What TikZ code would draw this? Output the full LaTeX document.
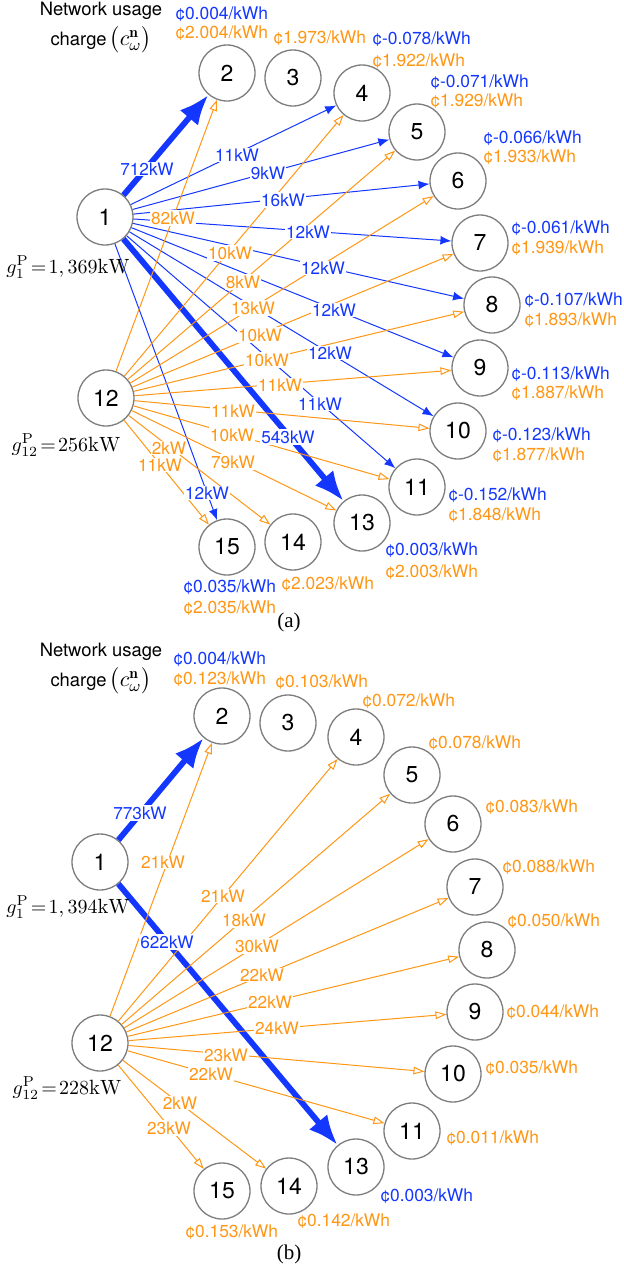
\documentclass[tikz,border=0pt]{standalone}
\usepackage{amsmath}
\usepackage{fontspec}
\usepackage{tikz}
\usetikzlibrary{arrows.meta,positioning}
\newfontfamily\helv{TeX Gyre Heros}
\newfontfamily\tms{Liberation Serif}
\definecolor{flowblue}{RGB}{20,55,255}
\definecolor{floworange}{RGB}{255,150,20}
\definecolor{busgray}{RGB}{125,125,125}
\newcommand{\netcharge}{{\fontsize{11}{12}\selectfont$\bigl(c^{\mathbf{n}}_{\omega}\bigr)$}}
\tikzstyle{bus} = [circle, draw=busgray, line width=0.65pt, fill=white,
minimum size=28pt, inner sep=0pt, font=\helv\fontsize{11.5}{12}\selectfont]
\tikzstyle{bline} = [draw=flowblue, line width=0.5pt, -{Latex[length=5.5pt,width=4.4pt]}]
\tikzstyle{bigline} = [draw=flowblue, line width=2.9pt, -{Latex[length=15pt,width=12pt]}]
\tikzstyle{oline} = [draw=floworange, line width=0.5pt, -{Triangle[open,length=5.5pt,width=3.8pt]}]
\tikzstyle{blab} = [fill=white, inner sep=0.6pt, text=flowblue, font=\helv\fontsize{8.6}{10}\selectfont]
\tikzstyle{olab} = [blab, text=floworange]
\tikzstyle{bprice} = [anchor=west, inner sep=0pt, text=flowblue, font=\helv\fontsize{8.7}{10}\selectfont]
\tikzstyle{oprice} = [bprice, text=floworange]
\tikzstyle{caption} = [inner sep=0pt, font=\helv\fontsize{9.2}{11}\selectfont]
\tikzstyle{gen} = [inner sep=0pt, font=\fontsize{10.3}{12}\selectfont]
\tikzstyle{panel} = [font=\tms\fontsize{10.5}{12}\selectfont]

\begin{document}
\begin{tikzpicture}[x=0.5pt, y=-0.5pt]
    \useasboundingbox (0,0) rectangle (623,1270);
    % nodes (a)
    \node [bus] (a1) at (105,217) {1};
    \node [bus] (a2) at (227,73) {2};
    \node [bus] (a3) at (293,78) {3};
    \node [bus] (a4) at (362,93) {4};
    \node [bus] (a5) at (417,132) {5};
    \node [bus] (a6) at (458,181) {6};
    \node [bus] (a7) at (480,243) {7};
    \node [bus] (a8) at (492,305) {8};
    \node [bus] (a9) at (480,368) {9};
    \node [bus] (a10) at (458,431) {10};
    \node [bus] (a11) at (417,487) {11};
    \node [bus] (a12) at (106,398) {12};
    \node [bus] (a13) at (362,523) {13};
    \node [bus] (a14) at (293,542) {14};
    \node [bus] (a15) at (227,547) {15};
    % nodes (b)
    \node [bus] (b1) at (100,862) {1};
    \node [bus] (b2) at (222,716) {2};
    \node [bus] (b3) at (288,723) {3};
    \node [bus] (b4) at (356,737) {4};
    \node [bus] (b5) at (412,775) {5};
    \node [bus] (b6) at (453,824) {6};
    \node [bus] (b7) at (475,887) {7};
    \node [bus] (b8) at (487,950) {8};
    \node [bus] (b9) at (475,1012) {9};
    \node [bus] (b10) at (453,1074) {10};
    \node [bus] (b11) at (412,1131) {11};
    \node [bus] (b12) at (100,1043) {12};
    \node [bus] (b13) at (356,1167) {13};
    \node [bus] (b14) at (289,1186) {14};
    \node [bus] (b15) at (222,1191) {15};

    % edges (a)
    \path [bigline] (a1) -- (a2);
    \path [bigline] (a1) -- (a13);
    \path [bline] (a1) -- (a4);
    \path [bline] (a1) -- (a5);
    \path [bline] (a1) -- (a6);
    \path [bline] (a1) -- (a7);
    \path [bline] (a1) -- (a8);
    \path [bline] (a1) -- (a9);
    \path [bline] (a1) -- (a10);
    \path [bline] (a1) -- (a11);
    \path [bline] (a1) -- (a15);
    \path [oline] (a12) -- (a2);
    \path [oline] (a12) -- (a4);
    \path [oline] (a12) -- (a5);
    \path [oline] (a12) -- (a6);
    \path [oline] (a12) -- (a7);
    \path [oline] (a12) -- (a8);
    \path [oline] (a12) -- (a9);
    \path [oline] (a12) -- (a10);
    \path [oline] (a12) -- (a11);
    \path [oline] (a12) -- (a13);
    \path [oline] (a12) -- (a14);
    \path [oline] (a12) -- (a15);
    % edges (b)
    \path [bigline] (b1) -- (b2);
    \path [bigline] (b1) -- (b13);
    \path [oline] (b12) -- (b2);
    \path [oline] (b12) -- (b4);
    \path [oline] (b12) -- (b5);
    \path [oline] (b12) -- (b6);
    \path [oline] (b12) -- (b7);
    \path [oline] (b12) -- (b8);
    \path [oline] (b12) -- (b9);
    \path [oline] (b12) -- (b10);
    \path [oline] (b12) -- (b11);
    \path [oline] (b12) -- (b14);
    \path [oline] (b12) -- (b15);

    % flow labels (a)
    \node [blab] at (147,169) {712kW};
    \node [blab] at (237,155) {11kW};
    \node [blab] at (268,173) {9kW};
    \node [blab] at (283,200) {16kW};
    \node [blab] at (308,232) {12kW};
    \node [blab] at (323,268) {12kW};
    \node [blab] at (334,310) {12kW};
    \node [blab] at (330,353) {12kW};
    \node [blab] at (320,404) {11kW};
    \node [blab] at (288,437) {543kW};
    \node [blab] at (207,493) {12kW};
    \node [olab] at (173,218) {82kW};
    \node [olab] at (230,253) {10kW};
    \node [olab] at (243,282) {8kW};
    \node [olab] at (253,308) {13kW};
    \node [olab] at (260,335) {10kW};
    \node [olab] at (267,360) {10kW};
    \node [olab] at (280,385) {11kW};
    \node [olab] at (233,411) {11kW};
    \node [olab] at (232,435) {10kW};
    \node [olab] at (233,462) {79kW};
    \node [olab] at (169,448) {2kW};
    \node [olab] at (160,465) {11kW};
    % flow labels (b)
    \node [blab] at (140,813) {773kW};
    \node [blab] at (167,942) {622kW};
    \node [olab] at (163,862) {21kW};
    \node [olab] at (223,896) {21kW};
    \node [olab] at (244,920) {18kW};
    \node [olab] at (257,946) {30kW};
    \node [olab] at (262,975) {22kW};
    \node [olab] at (270,1002) {22kW};
    \node [olab] at (277,1028) {24kW};
    \node [olab] at (226,1055) {23kW};
    \node [olab] at (211,1074) {22kW};
    \node [olab] at (180,1103) {2kW};
    \node [olab] at (169,1128) {23kW};

    % charges (a)
    \node [bprice] at (175,14) {¢0.004/kWh};
    \node [oprice] at (175,33) {¢2.004/kWh};
    \node [oprice] at (273,38) {¢1.973/kWh};
    \node [bprice] at (372,39) {¢-0.078/kWh};
    \node [oprice] at (372,61) {¢1.922/kWh};
    \node [bprice] at (430,82) {¢-0.071/kWh};
    \node [oprice] at (430,101) {¢1.929/kWh};
    \node [bprice] at (483,138) {¢-0.066/kWh};
    \node [oprice] at (483,157) {¢1.933/kWh};
    \node [bprice] at (511,228) {¢-0.061/kWh};
    \node [oprice] at (511,248) {¢1.939/kWh};
    \node [bprice] at (524,300) {¢-0.107/kWh};
    \node [oprice] at (524,320) {¢1.893/kWh};
    \node [bprice] at (511,374) {¢-0.113/kWh};
    \node [oprice] at (511,393) {¢1.887/kWh};
    \node [bprice] at (492,435) {¢-0.123/kWh};
    \node [oprice] at (492,455) {¢1.877/kWh};
    \node [bprice] at (448,495) {¢-0.152/kWh};
    \node [oprice] at (448,515) {¢1.848/kWh};
    \node [bprice] at (385,550) {¢0.003/kWh};
    \node [oprice] at (385,572) {¢2.003/kWh};
    \node [oprice] at (281,584) {¢2.023/kWh};
    \node [bprice] at (183,587) {¢0.035/kWh};
    \node [oprice] at (183,608) {¢2.035/kWh};
    % charges (b)
    \node [bprice] at (173,659) {¢0.004/kWh};
    \node [oprice] at (173,679) {¢0.123/kWh};
    \node [oprice] at (275,682) {¢0.103/kWh};
    \node [oprice] at (362,701) {¢0.072/kWh};
    \node [oprice] at (428,743) {¢0.078/kWh};
    \node [oprice] at (485,807) {¢0.083/kWh};
    \node [oprice] at (502,867) {¢0.088/kWh};
    \node [oprice] at (507,921) {¢0.050/kWh};
    \node [oprice] at (506,1012) {¢0.044/kWh};
    \node [oprice] at (485,1068) {¢0.035/kWh};
    \node [oprice] at (446,1138) {¢0.011/kWh};
    \node [bprice] at (380,1196) {¢0.003/kWh};
    \node [oprice] at (297,1221) {¢0.142/kWh};
    \node [oprice] at (185,1232) {¢0.153/kWh};

    % texts
    \node [caption] (nua) at (101,11) {Network usage};
    \node [caption] (cha) at (101,40) {charge\,\netcharge};
    \node [gen] (ga1) at (68,267) {$g_{1}^{\mathrm{P}}\!=\!1,369\mathrm{kW}$};
    \node [gen] (ga12) at (66,445) {$g_{12}^{\mathrm{P}}\!=\!256\mathrm{kW}$};
    \node [panel] (capa) at (289,622) {(a)};
    \node [caption] (nub) at (101,652) {Network usage};
    \node [caption] (chb) at (101,681) {charge\,\netcharge};
    \node [gen] (gb1) at (68,907) {$g_{1}^{\mathrm{P}}\!=\!1,394\mathrm{kW}$};
    \node [gen] (gb12) at (67,1088) {$g_{12}^{\mathrm{P}}\!=\!228\mathrm{kW}$};
    \node [panel] (capb) at (289,1254) {(b)};
\end{tikzpicture}
\end{document}
